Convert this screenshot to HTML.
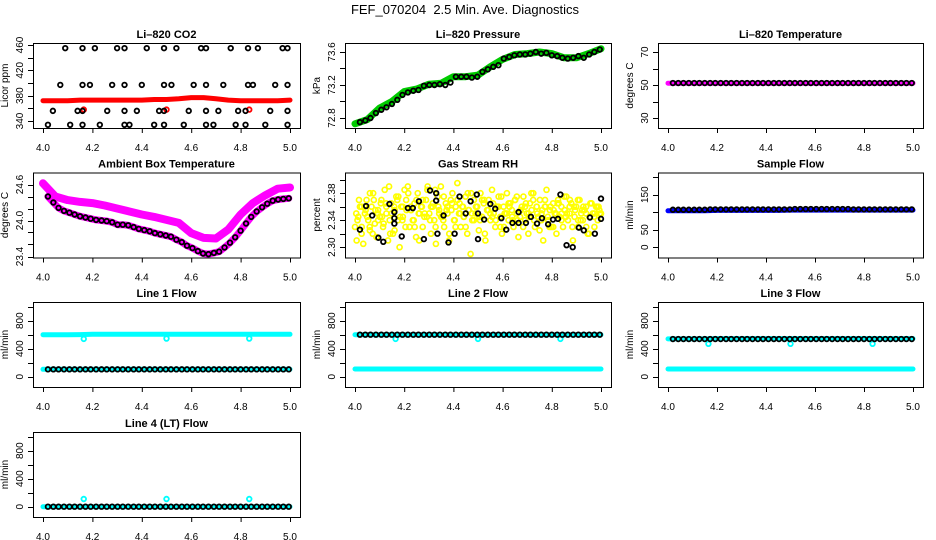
<!DOCTYPE html>
<html><head><meta charset="utf-8"><style>
html,body{margin:0;padding:0;background:#fff}
svg{display:block;font-family:"Liberation Sans",Arial,sans-serif}
</style></head><body>
<svg id="chart" width="936" height="540" viewBox="0 0 936 540" xmlns="http://www.w3.org/2000/svg">
<text x="465" y="14" text-anchor="middle" font-size="13">FEF_070204&#160;&#160;2.5 Min. Ave. Diagnostics</text>
</svg>
<script>
// ---- data ----
const xTickLabels = ["4.0","4.2","4.4","4.6","4.8","5.0"];
const xTickValues = [4.0,4.2,4.4,4.6,4.8,5.0];
const bandTimes = [4.0,4.05,4.1,4.15,4.2,4.25,4.3,4.35,4.4,4.45,4.5,4.55,4.6,4.65,4.7,4.75,4.8,4.85,4.9,4.95,5.0];
const dipTimes = [4.165,4.5,4.835];
const blackTimes = [4.02,4.042,4.063,4.085,4.107,4.128,4.15,4.172,4.193,4.215,4.237,4.258,4.28,4.302,4.323,4.345,4.367,4.388,4.41,4.432,4.453,4.475,4.497,4.518,4.54,4.562,4.583,4.605,4.627,4.648,4.67,4.692,4.713,4.735,4.757,4.778,4.8,4.822,4.843,4.865,4.887,4.908,4.93,4.952,4.973,4.995];

const co2Times = [4.09,4.16,4.21,4.30,4.33,4.42,4.49,4.54,4.64,4.66,4.76,4.83,4.87,4.97,4.99,
 4.07,4.16,4.19,4.28,4.33,4.40,4.49,4.52,4.61,4.66,4.73,4.83,4.85,4.94,4.99,
 4.04,4.14,4.16,4.26,4.33,4.38,4.47,4.49,4.59,4.66,4.71,4.79,4.82,4.92,4.99,
 4.02,4.11,4.16,4.23,4.33,4.35,4.45,4.49,4.57,4.66,4.69,4.78,4.82,4.90,4.99];
const co2Values = [455,455,455,455,455,455,455,455,455,455,455,455,455,455,455,
 397,397,397,397,397,397,397,397,397,397,397,397,397,397,397,
 356,356,356,356,356,356,356,356,356,356,356,356,356,356,356,
 334,334,334,334,334,334,334,334,334,334,334,334,334,334,334];
const co2Band = [372,372,372,373,373,373,373,373,373,374,374,375,377,377,375,373,372,372,372,372,373];
const co2Outliers = [358,358,358];

const pressureBand = [72.73,72.78,72.92,73.0,73.12,73.15,73.21,73.22,73.30,73.30,73.32,73.42,73.51,73.57,73.58,73.60,73.58,73.53,73.53,73.58,73.64];
const pressureBlack = [72.75,72.77,72.80,72.86,72.90,72.93,72.97,73.02,73.08,73.11,73.13,73.14,73.19,73.20,73.20,73.21,73.20,73.23,73.30,73.30,73.30,73.29,73.30,73.36,73.39,73.42,73.44,73.52,73.54,73.56,73.57,73.57,73.58,73.60,73.58,73.59,73.56,73.55,73.53,73.52,73.53,73.55,73.53,73.57,73.60,73.63];

const tempBand = [51.1,51.1,51.1,51.1,51.1,51.1,51.1,51.1,51.1,51.1,51.1,51.1,51.1,51.1,51.1,51.1,51.1,51.1,51.1,51.1,51.1];
const tempBlack = [51.2,51.2,51.2,51.2,51.2,51.2,51.2,51.2,51.2,51.2,51.2,51.2,51.2,51.2,51.2,51.2,51.2,51.2,51.2,51.2,51.2,51.2,51.2,51.2,51.2,51.2,51.2,51.2,51.2,51.2,51.2,51.2,51.2,51.2,51.2,51.2,51.2,51.2,51.2,51.2,51.2,51.2,51.2,51.2,51.2,51.2];

const ambientUpper = [24.62,24.40,24.34,24.31,24.29,24.25,24.20,24.15,24.10,24.06,24.01,23.96,23.79,23.71,23.70,23.85,24.10,24.29,24.42,24.53,24.55];
const ambientBlack = [24.40,24.30,24.21,24.16,24.13,24.10,24.07,24.05,24.03,24.01,24.00,23.99,23.97,23.93,23.93,23.92,23.89,23.86,23.84,23.82,23.79,23.77,23.75,23.73,23.68,23.64,23.58,23.54,23.49,23.45,23.44,23.46,23.48,23.55,23.63,23.72,23.83,23.95,24.06,24.15,24.22,24.28,24.33,24.35,24.36,24.37];

const rhYellow = [2.33,2.31,2.345,2.36,2.32,2.305,2.35,2.37,2.34,2.325,
2.36,2.38,2.335,2.315,2.355,2.345,2.37,2.33,2.385,2.35,
2.31,2.34,2.365,2.32,2.355,2.375,2.34,2.30,2.36,2.345,
2.385,2.37,2.39,2.33,2.355,2.34,2.365,2.315,2.38,2.35,
2.36,2.33,2.345,2.37,2.39,2.35,2.32,2.36,2.34,2.305,
2.375,2.355,2.39,2.345,2.33,2.365,2.35,2.31,2.37,2.38,
2.34,2.36,2.395,2.35,2.33,2.36,2.345,2.375,2.32,2.355,
2.29,2.34,2.37,2.35,2.36,2.325,2.38,2.345,2.365,2.31,
2.355,2.37,2.34,2.385,2.35,2.33,2.36,2.375,2.345,2.32,
2.36,2.35,2.38,2.34,2.365,2.355,2.33,2.37,2.35,2.315,
2.345,2.36,2.375,2.34,2.35,2.32,2.365,2.355,2.38,2.33,
2.36,2.345,2.37,2.35,2.31,2.36,2.385,2.34,2.355,2.33,
2.365,2.35,2.32,2.37,2.345,2.36,2.33,2.355,2.375,2.34,
2.35,2.365,2.31,2.345,2.36,2.33,2.37,2.35,2.34,2.355,
2.36,2.32,2.345,2.365,2.35,2.33,2.36,2.34,2.355,2.35];
const rhYellow2 = [2.35,2.37,2.33,2.36,2.345,2.38,2.32,2.355,2.34,2.365,
2.335,2.36,2.39,2.35,2.325,2.37,2.345,2.36,2.33,2.38,
2.355,2.34,2.37,2.31,2.36,2.35,2.385,2.34,2.365,2.33,
2.36,2.345,2.375,2.355,2.32,2.365,2.34,2.37,2.35,2.36,
2.33,2.355,2.38,2.34,2.36,2.345,2.37,2.32,2.355,2.35,
2.365,2.34,2.36,2.375,2.33,2.35,2.36,2.345,2.37,2.34,
2.355,2.33,2.365,2.35,2.38,2.34,2.36,2.325,2.355,2.37,
2.345,2.36,2.33,2.35,2.365,2.34,2.375,2.35,2.36,2.33,
2.355,2.37,2.34,2.36,2.35,2.32,2.365,2.345,2.36,2.35];
const rhYellow3 = [2.34,2.36,2.355,2.33,2.37,2.35,2.345,2.365,2.32,2.36,
2.375,2.34,2.355,2.36,2.33,2.35,2.37,2.345,2.36,2.385,
2.35,2.34,2.36,2.355,2.33,2.365,2.345,2.38,2.35,2.36,
2.34,2.37,2.355,2.345,2.36,2.33,2.35,2.365,2.34,2.375,
2.355,2.36,2.345,2.37,2.35,2.34,2.36,2.33,2.355,2.365,
2.35,2.345,2.37,2.36,2.34,2.355,2.33,2.365,2.35,2.36];
const rhBlackTimes = [4.02,4.045,4.07,4.095,4.115,4.14,4.16,4.16,4.16,4.19,4.215,4.235,4.26,4.28,4.305,4.33,4.33,4.335,4.36,4.38,4.405,4.425,4.45,4.47,4.495,4.5,4.5,4.525,4.55,4.57,4.595,4.615,4.64,4.665,4.665,4.695,4.715,4.74,4.76,4.785,4.805,4.825,4.835,4.86,4.885,4.91,4.93,4.955,4.975,5.0,5.0];
const rhBlackValues = [2.326,2.361,2.347,2.314,2.308,2.364,2.352,2.343,2.335,2.316,2.358,2.358,2.368,2.312,2.384,2.38,2.369,2.32,2.347,2.307,2.32,2.375,2.35,2.368,2.378,2.35,2.312,2.341,2.364,2.357,2.343,2.326,2.336,2.336,2.352,2.336,2.345,2.335,2.343,2.334,2.341,2.342,2.378,2.303,2.3,2.329,2.325,2.344,2.32,2.372,2.342];

const sampleBand = [104,104,104,104,105,105,105,105,105,105,106,106,106,106,106,106,106,106,106,106,106];
const sampleBlack = [107,107,107,107,107,107,107,108,108,108,108,108,108,108,108,108,108,108,108,108,108,108,108,109,109,109,109,109,109,109,109,109,109,109,108,108,108,108,108,108,108,108,108,108,108,108];

const line1Upper = [600,600,600,602,605,605,605,605,605,605,605,605,605,605,605,605,605,605,605,605,605];
const line1Lower = [105,105,105,105,105,105,105,105,105,105,105,105,105,105,105,105,105,105,105,105,105];
const line1Black = [105,105,105,105,105,105,105,105,105,105,105,105,105,105,105,105,105,105,105,105,105,105,105,105,105,105,105,105,105,105,105,105,105,105,105,105,105,105,105,105,105,105,105,105,105,105];
const line1Dips = [540,545,545];

const line2Upper = [600,600,600,600,600,600,600,600,600,600,600,600,600,600,600,600,600,600,600,600,600];
const line2Lower = [110,110,110,110,110,110,110,110,110,110,110,110,110,110,110,110,110,110,110,110,110];
const line2Black = [600,600,600,600,600,600,600,600,600,600,600,600,600,600,600,600,600,600,600,600,600,600,600,600,600,600,600,600,600,600,600,600,600,600,600,600,600,600,600,600,600,600,600,600,600,600];
const line2Dips = [540,540,540];

const line3Upper = [540,540,540,540,545,545,545,545,545,545,545,545,545,545,545,545,545,545,545,545,545];
const line3Lower = [110,110,110,110,110,110,110,110,110,110,110,110,110,110,110,110,110,110,110,110,110];
const line3Black = [538,538,538,538,538,538,538,538,538,538,538,538,538,538,538,538,538,538,538,538,538,538,538,538,538,538,538,538,538,538,538,538,538,538,538,538,538,538,538,538,538,538,538,538,538,538];
const line3Dips = [470,470,470];

const line4Band = [0,0,0,0,0,0,0,0,0,0,0,0,0,0,0,0,0,0,0,0,0];
const line4Black = [0,0,0,0,0,0,0,0,0,0,0,0,0,0,0,0,0,0,0,0,0,0,0,0,0,0,0,0,0,0,0,0,0,0,0,0,0,0,0,0,0,0,0,0,0,0];
const line4Outliers = [110,110,110];

const flowTicks = [0,200,400,600,800,1000];
const flowLabels = [0,400,800];

// ---- layout ----
const NS = "http://www.w3.org/2000/svg";
const svg = document.getElementById("chart");
const colX0 = [43,355,668], colW = [247,246,245];
const rowT = [34,163.5,293,423];

function mk(tag, attrs, parent){
  const el = document.createElementNS(NS, tag);
  for (const k in attrs) el.setAttribute(k, attrs[k]);
  (parent||svg).appendChild(el);
  return el;
}

function makePanel(name, col, row, title, ylab, vA, pA, vB, pB, ticks, labels, dec){
  const T = rowT[row], X0 = colX0[col], W = colW[col];
  const g = mk("g", {});
  
  
  const x = v => X0 + (v - 4) * W;
  const y = v => T + pA + (v - vA) * (pB - pA) / (vB - vA);
  const L = X0 - 10, R = X0 + W + 10, top = T + 9, bot = T + 94;
  const clip = mk("clipPath", {id: name + "-clip"}, g);
  mk("rect", {x: L, y: top, width: R - L, height: bot - top}, clip);
  const plot = mk("g", {"clip-path": "url(#" + name + "-clip)"}, g);
  
  
  const box = mk("rect", {x: L + .5, y: top + .5, width: R - L, height: bot - top, fill: "none", stroke: "#000", "stroke-width": 1}, g);
  
  
  const t = mk("text", {x: (L + R) / 2, y: T + 4, "text-anchor": "middle", "font-size": 11, "font-weight": "bold"}, g);
  
  
  t.textContent = title;
  const yl = mk("text", {x: 0, y: 0, "text-anchor": "middle", "font-size": 10, transform: "translate(" + (L - 25) + "," + ((top + bot) / 2) + ") rotate(-90)"}, g);
  
  
  yl.textContent = ylab;
  xTickValues.forEach((v, i) => {
    const tk = mk("line", {x1: x(v) + .5, x2: x(v) + .5, y1: bot, y2: bot + 5, stroke: "#000"}, g);
    
    
    const tl = mk("text", {x: x(v), y: T + 117, "text-anchor": "middle", "font-size": 10}, g);
    
    
    tl.textContent = xTickLabels[i];
  });
  ticks.forEach(v => {
    const tk = mk("line", {x1: L - 5, x2: L, y1: Math.round(y(v)) + .5, y2: Math.round(y(v)) + .5, stroke: "#000"}, g);
    
    
  });
  labels.forEach(v => {
    const tl = mk("text", {x: 0, y: 0, "text-anchor": "middle", "font-size": 10, transform: "translate(" + (L - 10) + "," + y(v) + ") rotate(-90)"}, g);
    
    
    tl.textContent = v.toFixed(dec || 0);
  });
  return {x, y, g: plot};
}

function band(p, times, vals, color, w, name){
  const pts = times.map((t, i) => p.x(t).toFixed(1) + "," + p.y(vals[i]).toFixed(1)).join(" ");
  const el = mk("polyline", {points: pts, fill: "none", stroke: color, "stroke-width": w, "stroke-linejoin": "round", "stroke-linecap": "round"}, p.g);
  
  
}
function pts(p, times, vals, color, name, r, sw){
  times.forEach((t, i) => {
    const c = mk("circle", {cx: p.x(t), cy: p.y(vals[i]), r: r || 2.3, fill: "none", stroke: color, "stroke-width": sw || 1.8}, p.g);
    
    
  });
}

// Li-820 CO2
let p = makePanel("co2", 0, 0, "Li\u2013820 CO2", "Licor ppm", 460, 11, 340, 87, [340,360,380,400,420,440,460], [340,380,420,460], 0);
band(p, bandTimes, co2Band, "#ff0000", 5, "co2-band");
pts(p, dipTimes, co2Outliers, "#ff0000", "co2-outlier");
pts(p, co2Times, co2Values, "#000", "co2-average-point");

// Li-820 Pressure
p = makePanel("pressure", 1, 0, "Li\u2013820 Pressure", "kPa", 73.6, 18, 72.8, 84, [72.8,73.0,73.2,73.4,73.6], [72.8,73.2,73.6], 1);
band(p, bandTimes, pressureBand, "#00cc00", 7, "pressure-band");
pts(p, blackTimes, pressureBlack, "#000", "pressure-point");

// Li-820 Temperature
p = makePanel("temperature", 2, 0, "Li\u2013820 Temperature", "degrees C", 70, 18, 30, 84, [30,40,50,60,70], [30,50,70], 0);
band(p, bandTimes, tempBand, "#ff00ff", 5, "temperature-band");
pts(p, blackTimes, tempBlack, "#000", "temperature-point");

// Ambient Box Temperature
p = makePanel("ambient", 0, 1, "Ambient Box Temperature", "degrees C", 24.6, 21, 23.4, 93, [23.4,23.6,23.8,24.0,24.2,24.4,24.6], [23.4,24.0,24.6], 1);
band(p, bandTimes, ambientUpper, "#ff00ff", 8, "ambient-upper-band");
band(p, blackTimes, ambientBlack, "#ff00ff", 7, "ambient-lower-band");
pts(p, blackTimes, ambientBlack, "#000", "ambient-point");

// Gas Stream RH
p = makePanel("rh", 1, 1, "Gas Stream RH", "percent", 2.38, 29.7, 2.30, 83.7, [2.30,2.32,2.34,2.36,2.38,2.40], [2.30,2.34,2.38], 2);
pts(p, rhYellow.map((v, i) => 4 + i / (rhYellow.length - 1)), rhYellow, "#ffff00", "rh-sample", 2.5, 1.7);
pts(p, rhYellow2.map((v, i) => 4.005 + i / (rhYellow2.length - 1) * 0.99), rhYellow2, "#ffff00", "rh-sample", 2.5, 1.7);
pts(p, rhYellow3.map((v, i) => 4.01 + i / (rhYellow3.length - 1) * 0.98), rhYellow3, "#ffff00", "rh-sample", 2.5, 1.7);
pts(p, rhBlackTimes, rhBlackValues, "#000", "rh-average-point");

// Sample Flow
p = makePanel("sample-flow", 2, 1, "Sample Flow", "ml/min", 200, 13.7, 0, 83.7, [0,50,100,150,200], [0,50,150], 0);
band(p, bandTimes, sampleBand, "#0000ff", 5, "sample-flow-band");
pts(p, blackTimes, sampleBlack, "#000", "sample-flow-point");

// Line 1 Flow
p = makePanel("line1", 0, 2, "Line 1 Flow", "ml/min", 1000, 13.7, 0, 83.7, flowTicks, flowLabels, 0);
band(p, bandTimes, line1Upper, "#00ffff", 5, "line1-upper-band");
band(p, bandTimes, line1Lower, "#00ffff", 5, "line1-lower-band");
pts(p, dipTimes, line1Dips, "#00ffff", "line1-dip");
pts(p, blackTimes, line1Black, "#000", "line1-point");

// Line 2 Flow
p = makePanel("line2", 1, 2, "Line 2 Flow", "ml/min", 1000, 13.7, 0, 83.7, flowTicks, flowLabels, 0);
band(p, bandTimes, line2Upper, "#00ffff", 5, "line2-upper-band");
band(p, bandTimes, line2Lower, "#00ffff", 5, "line2-lower-band");
pts(p, dipTimes, line2Dips, "#00ffff", "line2-dip");
pts(p, blackTimes, line2Black, "#000", "line2-point");

// Line 3 Flow
p = makePanel("line3", 2, 2, "Line 3 Flow", "ml/min", 1000, 13.7, 0, 83.7, flowTicks, flowLabels, 0);
band(p, bandTimes, line3Upper, "#00ffff", 5, "line3-upper-band");
band(p, bandTimes, line3Lower, "#00ffff", 5, "line3-lower-band");
pts(p, dipTimes, line3Dips, "#00ffff", "line3-dip");
pts(p, blackTimes, line3Black, "#000", "line3-point");

// Line 4 (LT) Flow
p = makePanel("line4", 0, 3, "Line 4 (LT) Flow", "ml/min", 1000, 13.7, 0, 83.7, flowTicks, flowLabels, 0);
band(p, bandTimes, line4Band, "#00ffff", 5, "line4-band");
pts(p, dipTimes, line4Outliers, "#00ffff", "line4-outlier");
pts(p, blackTimes, line4Black, "#000", "line4-point");
</script>
</body></html>
